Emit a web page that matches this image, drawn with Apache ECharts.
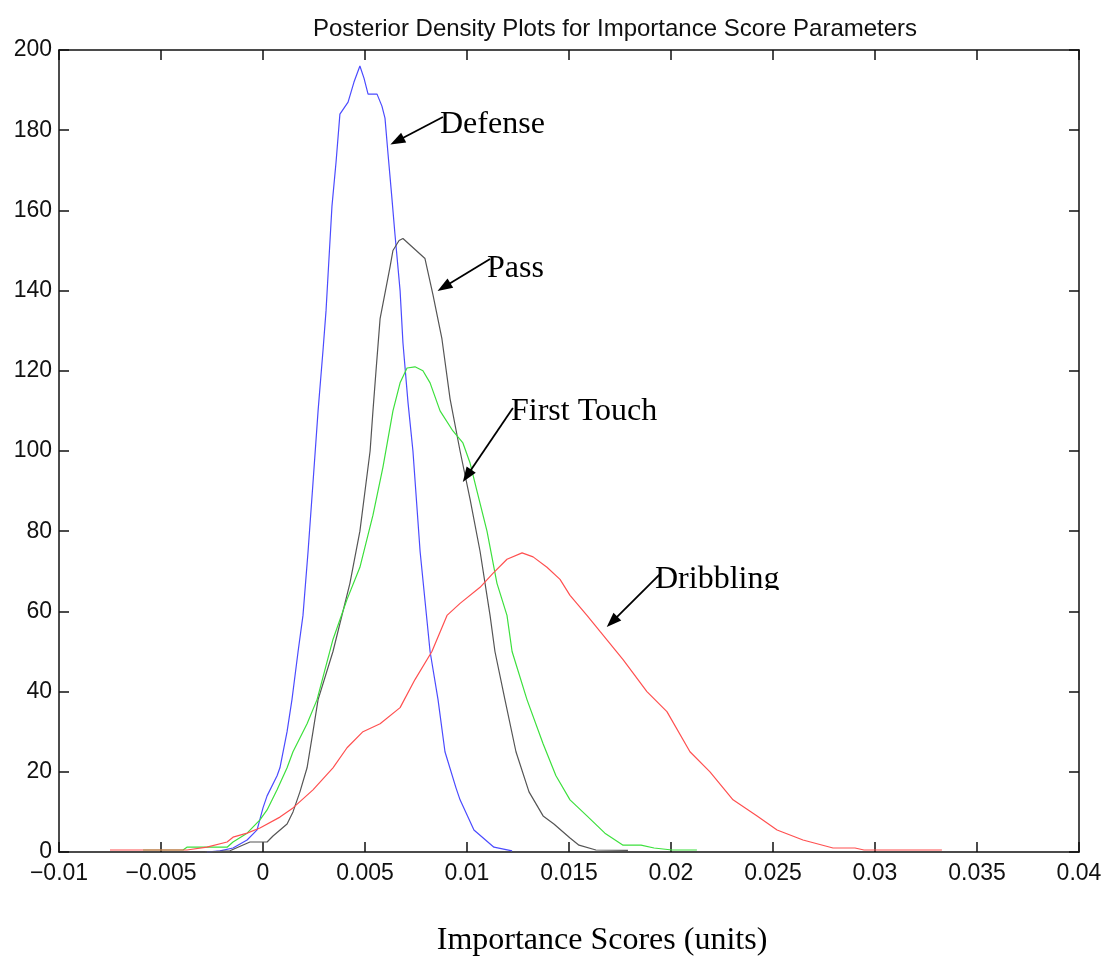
<!DOCTYPE html>
<html>
<head>
<meta charset="utf-8">
<script src="https://cdn.jsdelivr.net/npm/echarts@6/dist/echarts.min.js"></script>
<style>
  html, body { margin: 0; padding: 0; background: #fff; }
  #chart { width: 1108px; height: 959px; }
</style>
</head>
<body>
<div id="chart"></div>
<script>
// values
const xTicks = [-0.01, -0.005, 0, 0.005, 0.01, 0.015, 0.02, 0.025, 0.03, 0.035, 0.04]
const yTicks = [0, 20, 40, 60, 80, 100, 120, 140, 160, 180, 200]

const defenseX = [-0.00275, -0.00211, -0.00147, -0.00078, -0.00029, 0, 0.0002, 0.00069, 0.00083, 0.00118, 0.00142, 0.00172, 0.00196, 0.00221, 0.00245, 0.0027, 0.00294, 0.00309, 0.00319, 0.00338, 0.00358, 0.00377, 0.00417, 0.00446, 0.00475, 0.00495, 0.00515, 0.00559, 0.00583, 0.00598, 0.00613, 0.00632, 0.00647, 0.00672, 0.00686, 0.00711, 0.00735, 0.0077, 0.00819, 0.00858, 0.00892, 0.00946, 0.00966, 0.01034, 0.01132, 0.01221]
const defenseY = [0, 0.3, 1, 3, 5.5, 11, 14, 19, 21, 30, 38, 50, 59, 75, 92, 110, 125, 135, 144, 161, 172, 184, 187, 192, 196, 193, 189, 189, 186, 183, 174, 163, 154, 140, 127, 112, 100, 75, 50, 38, 25, 16, 13, 5.5, 1.2, 0.3]

const passX = [-0.00284, -0.00162, -0.00064, 0.0002, 0.00049, 0.00118, 0.00147, 0.00181, 0.00216, 0.00245, 0.0027, 0.00343, 0.00426, 0.00475, 0.00525, 0.00539, 0.00554, 0.00574, 0.00623, 0.00637, 0.00667, 0.00686, 0.00794, 0.00833, 0.00877, 0.00917, 0.00966, 0.01015, 0.01064, 0.01113, 0.01137, 0.01186, 0.0124, 0.01304, 0.01373, 0.01426, 0.01505, 0.01549, 0.01632, 0.01789]
const passY = [0, 0.3, 2.5, 2.5, 4, 7, 10, 15, 21, 30, 38, 50, 67, 80, 100, 110, 120, 133, 146, 150, 152.5, 153, 148, 139, 128, 113, 100, 88, 75, 59, 50, 38, 25, 15, 9, 7, 3.5, 1.7, 0.5, 0.4]

const touchX = [-0.00588, -0.00392, -0.00373, -0.00176, -0.00147, -0.00078, -0.00015, 0.0002, 0.00069, 0.00118, 0.00147, 0.00216, 0.00265, 0.00343, 0.00412, 0.00475, 0.00539, 0.00588, 0.00637, 0.00672, 0.00706, 0.00745, 0.00784, 0.00819, 0.00868, 0.00931, 0.0098, 0.01015, 0.01049, 0.01098, 0.01147, 0.01196, 0.01221, 0.01294, 0.01373, 0.01436, 0.01505, 0.01588, 0.01676, 0.01765, 0.01853, 0.01917, 0.02005, 0.02127]
const touchY = [0.5, 0.5, 1.2, 1.2, 2.5, 4.7, 8, 10.5, 15.5, 21, 25, 32, 38, 53, 63, 71, 84, 96, 110, 117, 120.7, 121, 120, 117, 110, 105, 102, 97, 90, 80, 67, 59, 50, 38, 27, 19, 13, 9, 4.7, 1.7, 1.7, 1, 0.5, 0.5]

const dribbleX = [-0.0075, -0.00373, -0.00275, -0.00176, -0.00147, -0.00078, -0.00015, 0.00083, 0.00147, 0.00245, 0.00343, 0.00412, 0.0049, 0.00574, 0.00672, 0.00745, 0.00828, 0.00902, 0.00966, 0.01064, 0.01127, 0.01196, 0.0127, 0.01324, 0.01392, 0.01456, 0.01505, 0.01588, 0.01652, 0.01765, 0.01882, 0.0198, 0.02093, 0.02191, 0.02304, 0.02422, 0.0252, 0.02647, 0.02794, 0.02902, 0.02946, 0.03328]
const dribbleY = [0.5, 0.5, 1.2, 2.5, 3.7, 4.7, 6, 8.7, 11, 15.5, 21, 26, 30, 32, 36, 43, 50, 59, 62, 66, 69.5, 73, 74.6, 73.6, 71, 68, 64, 59, 55, 48, 40, 35, 25, 20, 13, 9, 5.5, 3, 1, 1, 0.5, 0.5]

// arrow start / end points in data units
const arrows = [
  { name: 'Defense', from: [0.00882, 183.3], to: [0.00657, 177.3] },
  { name: 'Pass', from: [0.01113, 147.9], to: [0.00887, 140.9] },
  { name: 'First Touch', from: [0.01225, 110.7], to: [0.01, 93.8] },
  { name: 'Dribbling', from: [0.01946, 69.3], to: [0.01711, 57.4] }
]

const zip = (xs, ys) => xs.map((x, i) => [x, ys[i]])

const sans = 'Liberation Sans, Arial, sans-serif'
const serif = 'Liberation Serif, Times New Roman, serif'
const tickFont = { color: '#111', fontSize: 23, fontFamily: sans }

const fmtX = v => {
  const r = parseFloat(v.toFixed(4))
  return r < 0 ? '\u2212' + String(-r) : String(r)
}

const xBase = {
  type: 'value',
  min: xTicks[0],
  max: xTicks[xTicks.length - 1],
  interval: 0.005,
  axisLine: { onZero: false, lineStyle: { color: '#111', width: 1.5 } },
  axisTick: { inside: true, length: 10, lineStyle: { color: '#111', width: 1.5 } },
  splitLine: { show: false }
}
const yBase = {
  type: 'value',
  min: yTicks[0],
  max: yTicks[yTicks.length - 1],
  interval: 20,
  axisLine: { show: true, onZero: false, lineStyle: { color: '#111', width: 1.5 } },
  axisTick: { show: true, inside: true, length: 10, lineStyle: { color: '#111', width: 1.5 } },
  splitLine: { show: false }
}

const line = (name, xs, ys, color) => ({
  name,
  type: 'line',
  data: zip(xs, ys),
  showSymbol: false,
  smooth: false,
  lineStyle: { color, width: 1.2 },
  itemStyle: { color },
  z: 3
})

const chart = echarts.init(document.getElementById('chart'))

chart.setOption({
  backgroundColor: '#fff',
  animation: false,
  title: {
    text: 'Posterior Density Plots for Importance Score Parameters',
    left: 610,
    top: 12,
    textAlign: 'center',
    textStyle: { color: '#111', fontSize: 24, fontWeight: 'normal', fontFamily: sans }
  },
  grid: { left: 59, right: 29, top: 50, bottom: 107, outerBoundsMode: 'none' },
  xAxis: [
    Object.assign({}, xBase, {
      position: 'bottom',
      name: 'Importance Scores (units)',
      nameLocation: 'middle',
      nameGap: 73,
      nameTextStyle: { color: '#000', fontSize: 32, fontFamily: serif, padding: [0, 0, 0, 66] },
      axisLabel: Object.assign({ margin: 10, formatter: fmtX }, tickFont)
    }),
    Object.assign({}, xBase, { position: 'top', axisLabel: { show: false } })
  ],
  yAxis: [
    Object.assign({}, yBase, {
      position: 'left',
      axisLabel: Object.assign({ margin: 7 }, tickFont)
    }),
    Object.assign({}, yBase, { position: 'right', axisLabel: { show: false } })
  ],
  series: [
    line('Defense', defenseX, defenseY, '#4b4bff'),
    line('Pass', passX, passY, '#555555'),
    line('First Touch', touchX, touchY, '#3de03d'),
    line('Dribbling', dribbleX, dribbleY, '#ff5050'),
    {
      name: 'arrows',
      type: 'line',
      data: [],
      markLine: {
        silent: true,
        symbol: ['none', 'triangle'],
        symbolSize: [11, 15],
        label: { show: false },
        lineStyle: { color: '#000', width: 1.8, type: 'solid' },
        data: arrows.map(a => [{ coord: a.from }, { coord: a.to }])
      },
      z: 5
    }
  ],
  graphic: [
    { type: 'text', left: 440, top: 109, z: 10, style: { text: 'Defense', fill: '#000', font: '32px ' + serif } },
    { type: 'text', left: 487, top: 253, z: 10, style: { text: 'Pass', fill: '#000', font: '32px ' + serif } },
    { type: 'text', left: 511, top: 396, z: 10, style: { text: 'First Touch', fill: '#000', font: '32px ' + serif } },
    { type: 'text', left: 655, top: 564, z: 10, style: { text: 'Dribbling', fill: '#000', font: '32px ' + serif } },
    { type: 'rect', z: 11, shape: { x: 650, y: 590, width: 180, height: 14 }, style: { fill: '#fff' } }
  ]
})
</script>
</body>
</html>
